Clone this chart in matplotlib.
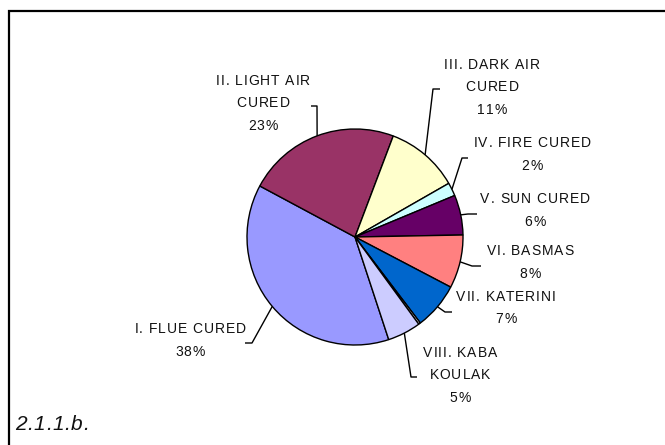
import numpy as np
import matplotlib
matplotlib.use("Agg")
import matplotlib.pyplot as plt
from matplotlib.patches import Rectangle
from matplotlib.font_manager import FontProperties

plt.rcParams["font.family"] = ["Liberation Sans", "DejaVu Sans"]

# ── data ──
categories = ["I. FLUE CURED", "II. LIGHT AIR\nCURED", "III. DARK AIR\nCURED",
              "IV. FIRE CURED", "V. SUN CURED", "VI. BASMAS", "VII. KATERINI",
              "", "VIII. KABA\nKOULAK"]
shares = [38, 23, 11, 2, 6, 8, 7, 0.3, 5]
colors = ["#9999FF", "#993366", "#FFFFCC", "#CCFFFF", "#660066",
          "#FF8080", "#0066CC", "#E8E8F0", "#CCCCFF"]

# ── layout (pixel coords, y down) ──
W, H = 665, 445
CX, CY, R = 355, 237, 108
START = -71.8  # matplotlib start angle, clockwise wedges
LINE_GAP = 22.5
# text centre, elbow point, end of horizontal tick
label_pos = [(190, 340.5), (263, 103.3), (492, 87.3), (532, 154.5), (535, 210.5),
             (530, 262.5), (506, 308), None, (460, 375.3)]
elbows = [(252, 343, 245), (317, 106, 311), (433, 89, 440), (462, 158, 468),
          (468, 214, 477), (472, 266, 481), (445, 312, 452), None, (411, 377, 417)]


def fy(y):
    return H - y


fig = plt.figure(figsize=(W / 100, H / 100), dpi=100)
ax = fig.add_axes([0, 0, 1, 1])
renderer = fig.canvas.get_renderer()


def spaced_text(x, y, s, size, spacing, ha="center", style="normal"):
    """Draw one line of text with extra letter spacing (pixel coords, y down)."""
    fp = FontProperties(family=["Liberation Sans"], size=size, style=style)
    widths = [renderer.get_text_width_height_descent(c, fp, ismath=False)[0]
              for c in s]
    total_w = sum(widths) + spacing * (len(s) - 1)
    x0 = x - total_w / 2 if ha == "center" else x
    for c, w in zip(s, widths):
        ax.text(x0, fy(y), c, ha="left", va="center", fontproperties=fp,
                color="#111111")
        x0 += w + spacing


ax.pie(shares, colors=colors, startangle=START, counterclock=False,
       center=(CX, fy(CY)), radius=R,
       wedgeprops=dict(edgecolor="black", linewidth=1.0))
ax.set_xlim(0, W)
ax.set_ylim(0, H)
ax.set_aspect("equal")
ax.axis("off")

# frame (right and bottom edges fall outside the image)
fig.patches.append(Rectangle((9 / W, -0.1), 1.1, (fy(11) / H) + 0.1,
                             transform=fig.transFigure, fill=False,
                             edgecolor="black", linewidth=1.6))

total = sum(shares)
theta0 = START
for i, (cat, val) in enumerate(zip(categories, shares)):
    span = val / total * 360
    mid = np.deg2rad(theta0 - span / 2)
    theta0 -= span
    if label_pos[i] is None:
        continue
    px, py = CX + R * np.cos(mid), fy(CY) + R * np.sin(mid)
    ex, ey, hx = elbows[i]
    ax.plot([px, ex, hx], [py, fy(ey), fy(ey)], color="black", lw=1.0,
            solid_capstyle="butt")
    tx, ty = label_pos[i]
    lines = f"{cat}\n{val:.0f}%".split("\n")
    y_first = ty - LINE_GAP * (len(lines) - 1) / 2
    for k, line in enumerate(lines):
        spaced_text(tx, y_first + k * LINE_GAP, line, 10, 0.9)

spaced_text(15, 424, "2.1.1.b.", 15, 0.6, ha="left", style="italic")

fig.savefig("out.png", dpi=100)
